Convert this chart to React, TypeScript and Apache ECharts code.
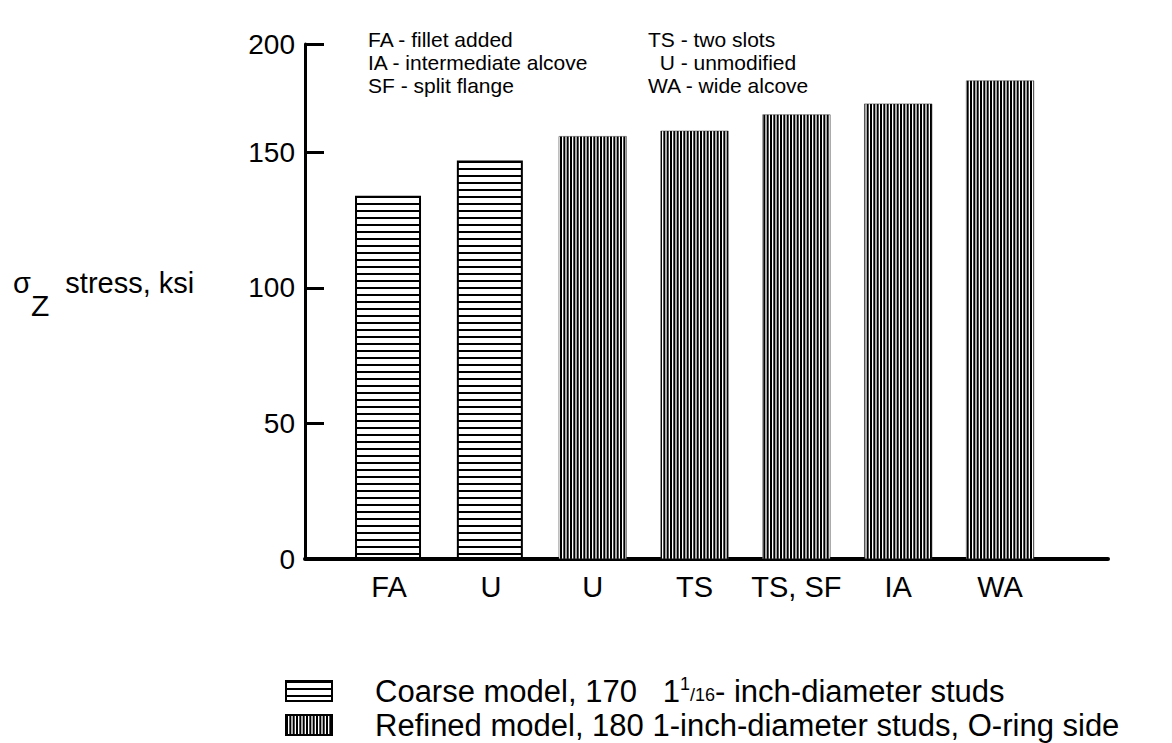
import React, { useEffect, useRef } from "react";
import * as echarts from "echarts";

// ---- data ----
const categories = ["FA", "U", "U", "TS", "TS, SF", "IA", "WA"];
const models = ["coarse", "coarse", "refined", "refined", "refined", "refined", "refined"];
const stressKsi = [134, 147, 156, 158, 164, 168, 176.5];
// tick values as drawn, and their labels; the source figure places its "200" tick
// at the top of the axis line, which sits at about 190 on the 0-150 tick spacing
const yTickValues = [0, 50, 100, 150, 190];
const yTickLabels = ["0", "50", "100", "150", "200"];
const seriesNames = [
  "Coarse model, 170   1{sup|1}{sl|/16}- inch-diameter studs",
  "Refined model, 180 1-inch-diameter studs, O-ring side",
];
const notesLeft = ["FA - fillet added", "IA - intermediate alcove", "SF - split flange"];
const notesRight = ["TS - two slots", "  U - unmodified", "WA - wide alcove"];

const FONT = "'Liberation Sans', Arial, Helvetica, sans-serif";

function stripePattern(horizontal: boolean) {
  const c = document.createElement("canvas");
  const ctx = c.getContext("2d")!;
  if (horizontal) {
    c.width = 8;
    c.height = 7;
    ctx.fillStyle = "#fff";
    ctx.fillRect(0, 0, 8, 7);
    ctx.fillStyle = "#000";
    ctx.fillRect(0, 0, 8, 2);
  } else {
    c.width = 10;
    c.height = 10;
    ctx.fillStyle = "#fff";
    ctx.fillRect(0, 0, 10, 10);
    ctx.fillStyle = "#000";
    ctx.fillRect(0, 0, 2, 10);
    ctx.fillRect(3.33, 0, 2, 10);
    ctx.fillRect(6.67, 0, 2, 10);
  }
  return { image: c, repeat: "repeat" } as any;
}

export default function App() {
  const ref = useRef<HTMLDivElement>(null);
  useEffect(() => {
    if (!ref.current) return;
    const chart = echarts.init(ref.current, undefined, { renderer: "svg" });
    const hPat = stripePattern(true);
    const vPat = stripePattern(false);
    const coarseData = stressKsi
      .map((v, i) => (models[i] === "coarse" ? [i, v] : null))
      .filter(Boolean);
    const refinedData = stressKsi
      .map((v, i) => (models[i] === "refined" ? [i, v] : null))
      .filter(Boolean);

    const noteText = (lines: string[], x: number) => ({
      type: "text",
      left: x,
      top: 28,
      style: {
        text: lines.join("\n"),
        font: `21px ${FONT}`,
        lineHeight: 23,
        fill: "#000",
      },
    });

    const legendBase = {
      orient: "horizontal",
      left: 285,
      padding: 0,
      itemWidth: 46,
      itemHeight: 20,
      icon: "rect",
      itemStyle: { borderColor: "#000", borderWidth: 2 },
      textStyle: {
        color: "#000",
        fontSize: 31,
        lineHeight: 32,
        fontFamily: FONT,
        padding: [0, 0, 0, 38],
        rich: {
          sup: { fontSize: 18, fontFamily: FONT, verticalAlign: "top", padding: [0, 0, 12, 0], color: "#000" },
          sl: { fontSize: 18, fontFamily: FONT, color: "#000", padding: [8, 0, 0, 0] },
        },
      },
    };

    chart.setOption({
      animation: false,
      backgroundColor: "#fff",
      grid: { left: 305, right: 64, top: 44, bottom: 184, containLabel: false },
      xAxis: {
        type: "value",
        min: -0.825,
        max: 7.06,
        splitLine: { show: false },
        axisLine: { show: true, onZero: false, lineStyle: { color: "#000", width: 4 } },
        axisTick: { show: false },
        axisLabel: {
          customValues: categories.map((_, i) => i),
          formatter: (v: number) => categories[Math.round(v)] ?? "",
          color: "#000",
          fontSize: 29,
          fontFamily: FONT,
          margin: 13,
        },
      },
      yAxis: {
        type: "value",
        min: 0,
        max: yTickValues[yTickValues.length - 1],
        splitLine: { show: false },
        axisLine: { show: true, onZero: false, lineStyle: { color: "#000", width: 3 } },
        axisTick: {
          show: true,
          inside: true,
          length: 19,
          customValues: yTickValues,
          lineStyle: { color: "#000", width: 3 },
        },
        axisLabel: {
          customValues: yTickValues,
          formatter: (v: number) => {
            const k = yTickValues.indexOf(v);
            return k >= 0 ? yTickLabels[k] : "";
          },
          color: "#000",
          fontSize: 28,
          fontFamily: FONT,
          margin: 10,
        },
      },
      legend: [
        { ...legendBase, top: 675, data: [seriesNames[0]] },
        { ...legendBase, top: 709, data: [seriesNames[1]] },
      ],
      graphic: [
        noteText(notesLeft, 368),
        noteText(notesRight, 648),
        {
          type: "text",
          left: 13,
          top: 268,
          style: {
            text: "{s|σ}{z|Z}{t|  stress, ksi}",
            font: `29px ${FONT}`,
            fill: "#000",
            rich: {
              s: { fontSize: 29, fontFamily: FONT, fill: "#000" },
              z: { fontSize: 30, fontFamily: FONT, fill: "#000", padding: [46, 0, 0, 0] },
              t: { fontSize: 29, fontFamily: FONT, fill: "#000" },
            },
          },
        },
      ],
      series: [
        {
          name: seriesNames[0],
          type: "bar",
          data: coarseData,
          barWidth: 66,
          barGap: "-100%",
          itemStyle: { color: hPat, borderColor: "#000", borderWidth: 2 },
        },
        {
          name: seriesNames[1],
          type: "bar",
          data: refinedData,
          barWidth: 68,
          barGap: "-100%",
          itemStyle: { color: vPat, borderColor: "#333", borderWidth: 0.5 },
        },
      ],
    });
    return () => chart.dispose();
  }, []);
  return (
    <div
      ref={ref}
      style={{ position: "fixed", left: 0, top: 0, width: 1172, height: 743 }}
    />
  );
}
